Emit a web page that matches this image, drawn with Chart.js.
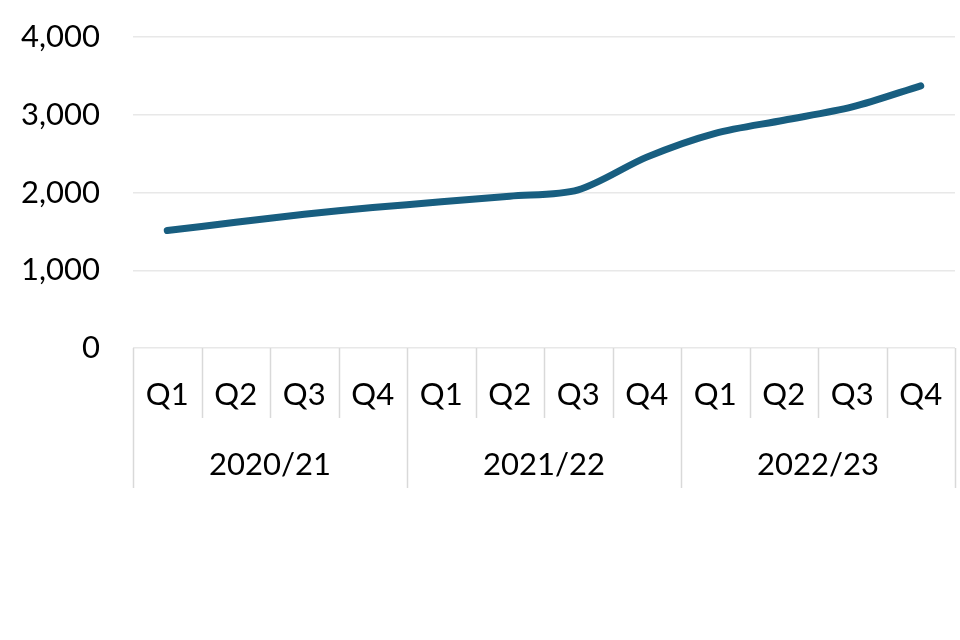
<!DOCTYPE html>
<html>
<head>
<meta charset="utf-8">
<script src="https://cdn.jsdelivr.net/npm/chart.js@4.4.1/dist/chart.umd.min.js"></script>
<style>
html,body{margin:0;padding:0;background:#fff;}
#wrap{width:960px;height:640px;}
</style>
</head>
<body>
<div id="wrap"><canvas id="c" width="960" height="640"></canvas></div>
<script>
const quarters = ['Q1','Q2','Q3','Q4','Q1','Q2','Q3','Q4','Q1','Q2','Q3','Q4'];
const years = ['2020/21','2021/22','2022/23'];
const values = [1510, 1617, 1720, 1806, 1880, 1953, 2035, 2455, 2761, 2929, 3100, 3372];
const yTicks = [0, 1000, 2000, 3000, 4000];

const FONT = 'Lato, "Open Sans", sans-serif';

const separators = {
  id: 'separators',
  afterDraw(chart) {
    const xs = chart.scales.x;
    const ctx = chart.ctx;
    const top = chart.chartArea.bottom;
    const qBottom = xs.bottom;
    const yBottom = chart.scales.x2.bottom;
    ctx.save();
    ctx.strokeStyle = '#d9d9d9';
    ctx.lineWidth = 1.5;
    for (let i = 0; i <= quarters.length; i++) {
      const px = Math.round(xs.getPixelForValue(i - 0.5)) + 0.5;
      const full = (i % 4 === 0);
      ctx.beginPath();
      ctx.moveTo(px, top);
      ctx.lineTo(px, full ? yBottom : qBottom);
      ctx.stroke();
    }
    ctx.restore();
  }
};

function noPad(scale) {
  scale.paddingTop = 0; scale.paddingBottom = 0;
  scale.paddingLeft = 0; scale.paddingRight = 0;
}

new Chart(document.getElementById('c'), {
  type: 'line',
  data: {
    labels: quarters,
    datasets: [{
      data: values,
      borderColor: '#185e80',
      borderWidth: 7,
      pointRadius: 0,
      tension: 0.3,
      fill: false,
      borderCapStyle: 'round',
      borderJoinStyle: 'round'
    }]
  },
  options: {
    responsive: false,
    animation: false,
    devicePixelRatio: 1,
    layout: { padding: { left: 0, right: 5, top: 37, bottom: 152 } },
    plugins: { legend: { display: false }, tooltip: { enabled: false } },
    scales: {
      y: {
        min: 0, max: 4000,
        afterBuildTicks(scale) { scale.ticks = yTicks.map(v => ({ value: v })); },
        afterFit(scale) { scale.width = 133; noPad(scale); },
        ticks: {
          color: '#000',
          font: { family: FONT, size: 31 },
          padding: 33,
          callback: v => v.toLocaleString('en-US')
        },
        grid: { color: '#e8e8e8', lineWidth: 1.5, drawTicks: false },
        border: { display: false }
      },
      x: {
        type: 'category',
        offset: true,
        afterFit(scale) { scale.height = 70; noPad(scale); },
        ticks: {
          color: '#000',
          font: { family: FONT, size: 31 },
          padding: 20,
          maxRotation: 0,
          autoSkip: false
        },
        grid: { display: false },
        border: { display: false }
      },
      x2: {
        type: 'category',
        position: 'bottom',
        labels: years,
        offset: true,
        afterFit(scale) { scale.height = 70; noPad(scale); },
        ticks: {
          color: '#000',
          font: { family: FONT, size: 31 },
          padding: 20,
          maxRotation: 0,
          autoSkip: false
        },
        grid: { display: false },
        border: { display: false }
      }
    }
  },
  plugins: [separators]
});
</script>
</body>
</html>
